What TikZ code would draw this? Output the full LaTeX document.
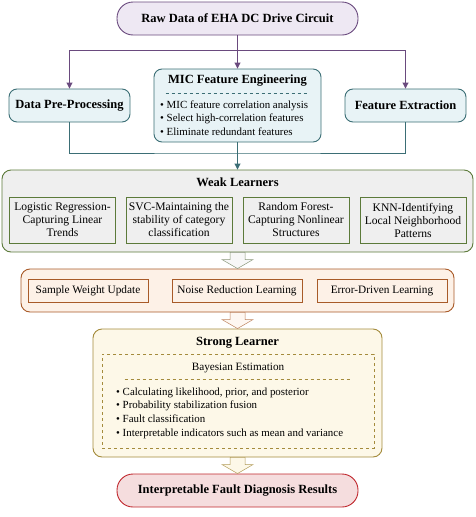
\documentclass[tikz,border=0pt]{standalone}
\usepackage{fontspec}
\setmainfont{Liberation Serif}
\usetikzlibrary{calc,arrows.meta}

\definecolor{rawline}{HTML}{6A4A7E}
\definecolor{rawfill}{HTML}{EEE8F3}
\definecolor{micline}{HTML}{3B6E75}
\definecolor{micfill}{HTML}{E8F3F6}
\definecolor{weakline}{HTML}{5C7A3A}
\definecolor{weakfill}{HTML}{EFEFEF}
\definecolor{boostline}{HTML}{A85A28}
\definecolor{boostfill}{HTML}{FDF1E7}
\definecolor{strongline}{HTML}{A48B3C}
\definecolor{strongfill}{HTML}{FDF8E8}
\definecolor{resline}{HTML}{C0282E}
\definecolor{resfill}{HTML}{F5DDDE}

% hollow block arrow from the bottom of #1 to the top of #2
\newcommand{\fatarrow}[3]{%
  \draw[#3] ($(#1.south)+(-7.5,0)$) -- ($(#1.south |- #2.north)+(-7.5,-9)$)
    -- ($(#1.south |- #2.north)+(-15.5,-9)$) -- (#1.south |- #2.north)
    -- ($(#1.south |- #2.north)+(15.5,-9)$) -- ($(#1.south |- #2.north)+(7.5,-9)$)
    -- ($(#1.south)+(7.5,0)$) -- cycle;}

\begin{document}
\begin{tikzpicture}[x=1pt,y=-1pt,
    title/.style={font=\fontsize{12.5}{14}\selectfont\bfseries},
    pill/.style={draw, line width=0.9pt, rounded corners=16pt, minimum width=241pt, minimum height=33pt, title},
    stage/.style={draw=micline, fill=micfill, line width=0.9pt, rounded corners=8pt, minimum width=121pt, minimum height=33pt, title},
    learner/.style={draw=weakline, fill=weakfill, line width=0.9pt, minimum width=106pt, minimum height=46pt, align=center, inner sep=1pt, font=\fontsize{11.6}{13}\selectfont},
    booster/.style={draw=boostline, fill=boostfill, line width=0.9pt, minimum height=23pt, font=\fontsize{11.3}{13}\selectfont},
    bullets/.style={align=left, anchor=west, inner sep=0pt, font=\fontsize{10.9}{13.7}\selectfont},
    flow/.style={line width=0.9pt, -{Triangle[width=6pt,length=6pt]}},
    block/.style={line width=0.5pt},
  ]
  \useasboundingbox (0,0) rectangle (475,517);

  % top row
  \node[pill, draw=rawline, fill=rawfill] (raw) at (237.5,18.5) {Raw Data of EHA DC Drive Circuit};
  \node[stage] (pre) at (69.5,105.5) {Data Pre-Processing};
  \node[stage] (fext) at (405.5,105.5) {Feature Extraction};
  \node[draw=micline, fill=micfill, line width=0.9pt, rounded corners=8pt, minimum width=167pt, minimum height=73pt] (mic) at (237.5,105.5) {};
  \node[title] (mictitle) at (237.5,81) {MIC Feature Engineering};
  \draw[micline, dashed, line width=0.7pt] ($(mic.north west)+(12,25)$) -- ($(mic.north east)+(-12,25)$);
  \node[bullets] (miclist) at (160,118) {\textbullet\ MIC feature correlation analysis\\
    \textbullet\ Select high-correlation features\\ \textbullet\ Eliminate redundant features};

  % weak learners
  \node[draw=weakline, fill=weakfill, line width=0.9pt, rounded corners=9pt, minimum width=471pt, minimum height=82pt] (weak) at (237.5,211) {};
  \node[title] (weaktitle) at (237.5,182.5) {Weak Learners};
  \node[learner] (lr) at (62.5,220) {Logistic Regression-\\Capturing Linear\\Trends};
  \node[learner] (svc) at (179,220) {SVC-Maintaining the\\stability of category\\classification};
  \node[learner] (rf) at (296,220) {Random Forest-\\Capturing Nonlinear\\Structures};
  \node[learner] (knn) at (413,220) {KNN-Identifying\\Local Neighborhood\\Patterns};

  % boosting stage
  \node[draw=boostline, fill=boostfill, line width=0.9pt, rounded corners=9pt, minimum width=433pt, minimum height=43pt] (boost) at (237.5,290.5) {};
  \node[booster, minimum width=120pt] (swu) at (88,290.5) {Sample Weight Update};
  \node[booster, minimum width=130pt] (nrl) at (237,290.5) {Noise Reduction Learning};
  \node[booster, minimum width=130pt] (edl) at (382,290.5) {Error-Driven Learning};

  % strong learner
  \node[draw=strongline, fill=strongfill, line width=0.9pt, rounded corners=9pt, minimum width=289pt, minimum height=128pt] (strong) at (237.5,393) {};
  \node[title] (strongtitle) at (237.5,342.5) {Strong Learner};
  \node[draw=strongline, dashed, line width=0.8pt, minimum width=272pt, minimum height=94pt] (bayes) at (238,401) {};
  \node[font=\fontsize{11.2}{13}\selectfont] (bayestitle) at (238,368) {Bayesian Estimation};
  \draw[strongline, dashed, line width=0.8pt] ($(bayes.north west)+(23,26)$) -- ($(bayes.north east)+(-22,26)$);
  \node[bullets] (bayeslist) at (116,413) {\textbullet\ Calculating likelihood, prior, and posterior\\
    \textbullet\ Probability stabilization fusion\\ \textbullet\ Fault classification\\
    \textbullet\ Interpretable indicators such as mean and variance};

  \node[pill, draw=resline, fill=resfill] (res) at (237.5,490.5) {Interpretable Fault Diagnosis Results};

  % connectors
  \coordinate (split) at (237.5,50);
  \coordinate (merge) at (237.5,153);
  \draw[flow, rawline] (raw) -- (mic);
  \draw[flow, rawline] (split) -| (pre);
  \draw[flow, rawline] (split) -| (fext);
  \draw[line width=0.9pt, micline] (pre) |- (merge) -| (fext);
  \draw[flow, micline] (mic) -- (weak);

  \fatarrow{weak}{boost}{block, draw=weakline!55!gray!80!white, fill=weakfill!50!white}
  \fatarrow{boost}{strong}{block, draw=boostline!75!white, fill=boostfill!60!white}
  \fatarrow{strong}{res}{block, draw=strongline!85!white, fill=strongfill}
\end{tikzpicture}
\end{document}
